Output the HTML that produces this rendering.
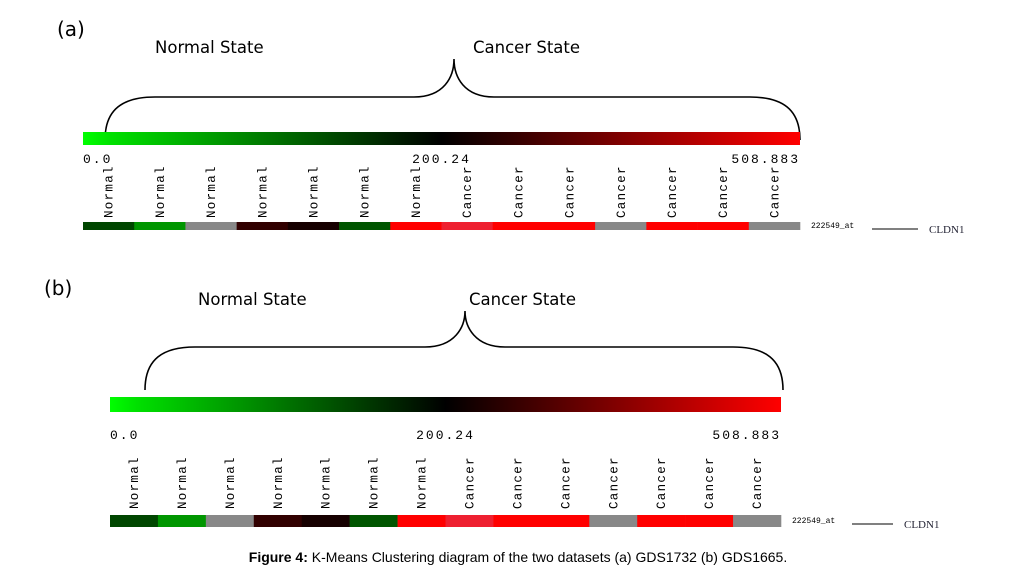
<!DOCTYPE html>
<html><head><meta charset="utf-8"><style>
body{margin:0;background:#fff;}
svg{display:block;}
.t{font-family:"DejaVu Sans","Liberation Sans",sans-serif;}
.m{font-family:"Liberation Mono",monospace;}
</style></head><body>
<svg id="fig" width="1035" height="576" xmlns="http://www.w3.org/2000/svg">
<defs>
<linearGradient id="gr" x1="0" x2="1" y1="0" y2="0">
<stop offset="0" stop-color="#00ff00"/><stop offset="0.04" stop-color="#00e000"/><stop offset="0.5" stop-color="#000000"/><stop offset="1" stop-color="#ff0000"/>
</linearGradient>
</defs>
<g id="pa"></g>
<g id="pb"></g>
<text x="518" y="562" text-anchor="middle" font-family="Liberation Sans, sans-serif" font-size="14"><tspan font-weight="bold">Figure 4:</tspan> K-Means Clustering diagram of the two datasets (a) GDS1732 (b) GDS1665.</text>
</svg>
<script>
const labels=["Normal","Normal","Normal","Normal","Normal","Normal","Normal","Cancer","Cancer","Cancer","Cancer","Cancer","Cancer","Cancer"];
// expression values (0..508.883), null = missing (grey)
const valuesA=[130,50,null,250,222,115,508.883,480,508.883,508.883,null,508.883,508.883,null];
const valuesB=[130,50,null,250,222,115,508.883,480,508.883,508.883,null,508.883,508.883,null];
const scaleTicks=["0.0","200.24","508.883"];
const vMin=0,vMid=200.24,vMax=508.883;
const NS="http://www.w3.org/2000/svg";
function mk(p,tag,attrs,txt){const e=document.createElementNS(NS,tag);for(const k in attrs)e.setAttribute(k,attrs[k]);if(txt!=null)e.textContent=txt;p.appendChild(e);return e;}
function color(v){
  if(v==null)return "#888888";
  if(v<=vMid){const f=(v-vMin)/(vMid-vMin);return `rgb(0,${Math.round(200*(1-f))},0)`;}
  const f=Math.min(1,(v-vMid)/(vMax-vMid));
  if(f>0.85&&f<0.95)return "rgb(238,32,48)";
  return `rgb(${Math.round(255*Math.min(1,f*1.2))},0,0)`;
}
function panel(g,o,vals){
  const lab=mk(g,"text",{x:o.lx,y:o.ly,"font-size":20,class:"t"},o.letter);
  
  
  const n=mk(g,"text",{x:o.nx,y:o.ty,"font-size":16.5,class:"t"},"Normal State");
  
  
  const c=mk(g,"text",{x:o.cx,y:o.ty,"font-size":16.5,class:"t"},"Cancer State");
  
  
  const L=o.b0,R=o.b1,T=o.tip,H=o.hy,E=o.ey;
  const d=`M${L},${E} C${L},${H+12} ${L+18},${H} ${L+50},${H} L${T-40},${H} C${T-10},${H} ${T},${H-20} ${T},${o.ty+6} C${T},${H-20} ${T+10},${H} ${T+40},${H} L${R-50},${H} C${R-18},${H} ${R},${H+12} ${R},${E}`;
  const br=mk(g,"path",{d,fill:"none",stroke:"#000","stroke-width":1.6});
  
  
  const bar=mk(g,"rect",{x:o.x0,y:o.by,width:o.x1-o.x0,height:o.bh,fill:"url(#gr)"});
  
  
  const w=o.x1-o.x0;
  const pos=[0,(vMid-vMin)/(vMax-vMin),1];
  scaleTicks.forEach((t,i)=>{
    let anchor=i==0?"start":(i==2?"end":"middle");
    const x=i==1?o.x0+w*0.5:o.x0+w*pos[i];
    const e=mk(g,"text",{x,y:o.ty2,"font-size":13,class:"m","text-anchor":anchor,"letter-spacing":"2"},t);
    
    
  });
  const cw=w/vals.length;
  vals.forEach((v,i)=>{
    const cx=o.x0+cw*(i+0.5);
    const tl=mk(g,"text",{x:0,y:0,"font-size":12.5,class:"m","letter-spacing":"1.3",transform:`translate(${cx+4},${o.labB}) rotate(-90)`},labels[i]);
    
    
    const r=mk(g,"rect",{x:o.x0+cw*i,y:o.cy,width:cw+0.3,height:o.ch,fill:color(v)});
    
    
  });
  const id=mk(g,"text",{x:o.x1+11,y:o.cy+o.ch/2+2,"font-size":8,class:"m"},"222549_at");
  
  
  const ln=mk(g,"line",{x1:o.lnx0,x2:o.lnx1,y1:o.cy+o.ch/2+3,y2:o.cy+o.ch/2+3,stroke:"#000","stroke-width":1});
  
  
  const gn=mk(g,"text",{x:o.lnx1+11,y:o.cy+o.ch/2+7,"font-size":11,"font-family":"Liberation Serif, serif",fill:"#223"},"CLDN1");
  
  
}
panel(document.getElementById("pa"),{letter:"(a)",lx:57,ly:36,nx:155,cx:473,ty:53,b0:105,b1:800,tip:454,hy:97,ey:140,x0:83,x1:800,by:132,bh:13,ty2:163,labB:218,cy:222,ch:8,lnx0:872,lnx1:918},valuesA);
panel(document.getElementById("pb"),{letter:"(b)",lx:44,ly:295,nx:198,cx:469,ty:305,b0:145,b1:783,tip:465,hy:347,ey:390,x0:110,x1:781,by:397,bh:15,ty2:439,labB:509,cy:515,ch:12,lnx0:852,lnx1:893},valuesB);
</script>
</body></html>
